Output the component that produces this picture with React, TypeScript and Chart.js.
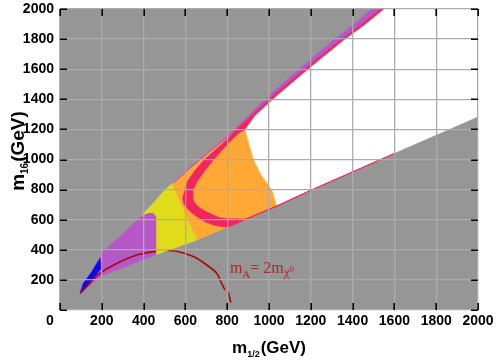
import React, { useEffect, useRef } from 'react';
import { Chart, registerables } from 'chart.js';

Chart.register(...registerables);

// ---------- axes ----------
const xTicks = [0, 200, 400, 600, 800, 1000, 1200, 1400, 1600, 1800, 2000];
const yTicks = [0, 200, 400, 600, 800, 1000, 1200, 1400, 1600, 1800, 2000];

// ---------- excluded (gray) region: everything outside the wedge ----------
const grayX = [0, 0, 1490, 1400, 1300, 1200, 1100, 1000, 950, 900, 850, 797, 730, 662, 598, 542, 502, 450, 391, 300, 200, 191, 152, 112, 96, 200, 462, 654, 1037, 1203, 1600, 2000, 2000, 0];
const grayY = [0, 2000, 2000, 1892, 1785, 1668, 1548, 1425, 1360, 1290, 1222, 1152, 1075, 997, 919, 845, 797, 715, 628, 505, 385, 350, 254, 177, 111, 226, 369, 465, 690, 797, 1040, 1282, 0, 0];

// ---------- orange region ----------
const orangeX = [534, 542, 598, 662, 730, 797, 850, 880, 885, 900, 925, 960, 1013, 1037, 654, 534];
const orangeY = [836, 845, 919, 997, 1075, 1152, 1222, 1240, 1200, 1120, 1000, 900, 797, 690, 465, 836];

// ---------- thin purple band along the upper edge ----------
const bandX = [542, 598, 662, 730, 797, 850, 900, 950, 1000, 1100, 1200, 1300, 1400, 1490, 1532, 1436, 1332, 1228, 1124, 1020, 968, 914, 862, 807, 738, 670, 604, 546, 542];
const bandY = [845, 919, 997, 1075, 1152, 1222, 1290, 1360, 1425, 1548, 1668, 1785, 1892, 2000, 2000, 1892, 1785, 1668, 1548, 1425, 1360, 1290, 1222, 1152, 1075, 997, 919, 845, 845];

// ---------- pink strip + chevron ----------
const pinkX = [1532, 1436, 1332, 1228, 1124, 1020, 968, 914, 862, 842, 797, 740, 689, 645, 612, 597, 587, 592, 610, 638, 670, 702, 740, 780, 800, 860, 890, 845, 797, 760, 734, 700, 670, 648, 634, 636, 655, 690, 734, 797, 850, 885, 931, 985, 1037, 1141, 1245, 1349, 1453, 1549, 1532];
const pinkY = [2000, 1892, 1785, 1668, 1548, 1425, 1360, 1290, 1222, 1196, 1130, 1060, 997, 925, 860, 797, 745, 705, 672, 636, 606, 582, 563, 552, 551, 586, 603, 607, 606, 615, 631, 652, 676, 705, 740, 797, 850, 920, 997, 1096, 1170, 1200, 1290, 1360, 1425, 1548, 1668, 1785, 1892, 2000, 2000];

// ---------- purple region (left) ----------
const purpleX = [96, 112, 152, 191, 200, 300, 391, 420, 445, 458, 462, 462, 200, 96];
const purpleY = [111, 177, 254, 350, 385, 505, 628, 645, 648, 640, 620, 369, 226, 111];

// ---------- blue sliver ----------
const blueX = [96, 112, 152, 191, 196, 167, 135, 112, 96];
const blueY = [111, 177, 254, 343, 277, 221, 166, 126, 111];

// ---------- yellow region ----------
const yellowX = [391, 450, 502, 534, 654, 462, 462, 445, 420, 391];
const yellowY = [628, 715, 797, 836, 465, 369, 620, 648, 645, 628];

// ---------- m_A = 2 m_chi curve ----------
const arcX = [96, 144, 167, 210, 287, 311, 367, 439, 500, 558, 638, 702, 750, 773, 789];
const arcY = [111, 180, 215, 262, 321, 335, 365, 386, 395, 390, 355, 299, 244, 177, 133];
const arcTailX = [805, 817];
const arcTailY = [122, 50];

// ---------- pink edge along the lower boundary ----------
const edgeX = [800, 1037, 1203, 1600];
const edgeY = [551, 690, 797, 1040];

const labelAt = [813, 246];

const GRAY = '#969696';
const ORANGE = '#ffa836';
const PURPLE = '#b557c6';
const PINK = '#f2245f';
const BLUE = '#0a0af0';
const YELLOW = '#e0dc1c';
const DARKRED = '#aa0808';

const pts = (xs: number[], ys: number[]) => xs.map((x, i) => ({ x, y: ys[i] }));

const poly = (xs: number[], ys: number[], color: string) => ({
  data: pts(xs, ys),
  backgroundColor: color,
  borderColor: color,
  borderWidth: 0.6,
  fill: 'shape',
  pointRadius: 0,
  tension: 0,
});

const curve = (xs: number[], ys: number[], color: string, w: number, t: number) => ({
  data: pts(xs, ys),
  borderColor: color,
  backgroundColor: color,
  borderWidth: w,
  fill: false,
  pointRadius: 0,
  tension: t,
});

const TICK_FONT = { family: '"Liberation Sans", Arial, sans-serif', size: 14, weight: 'bold' as const };

const overlay = {
  id: 'overlay',
  afterDraw(chart: any) {
    const ctx = chart.ctx as CanvasRenderingContext2D;
    const xs = chart.scales.x;
    const ys = chart.scales.y;
    const a = chart.chartArea;
    ctx.save();
    // inward tick marks on all four sides
    ctx.strokeStyle = '#000';
    ctx.lineWidth = 1.6;
    ctx.beginPath();
    xTicks.forEach((v) => {
      const px = Math.round(xs.getPixelForValue(v)) + 0.2;
      ctx.moveTo(px, a.bottom);
      ctx.lineTo(px, a.bottom - 7);
      ctx.moveTo(px, a.top);
      ctx.lineTo(px, a.top + 7);
    });
    yTicks.forEach((v) => {
      const py = Math.round(ys.getPixelForValue(v)) + 0.2;
      ctx.moveTo(a.left, py);
      ctx.lineTo(a.left + 7, py);
      ctx.moveTo(a.right, py);
      ctx.lineTo(a.right - 7, py);
    });
    ctx.stroke();

    // the lone "0" under the origin
    ctx.fillStyle = '#000';
    ctx.font = `bold ${TICK_FONT.size}px ${TICK_FONT.family}`;
    ctx.textAlign = 'center';
    ctx.textBaseline = 'middle';
    ctx.fillText('0', a.left - 10, a.bottom + 3 + 8.4);

    // x-axis title: m_{1/2}(GeV)
    ctx.textAlign = 'left';
    ctx.textBaseline = 'alphabetic';
    const big = 'bold 17px "Liberation Sans", Arial, sans-serif';
    const sub = 'bold 9px "Liberation Sans", Arial, sans-serif';
    ctx.font = big;
    const wm = ctx.measureText('m').width;
    const wg = ctx.measureText('(GeV)').width;
    ctx.font = sub;
    const ws = ctx.measureText('1/2').width;
    let x = (a.left + a.right) / 2 - (wm + ws + wg + 1) / 2;
    const by = 353;
    ctx.font = big;
    ctx.fillText('m', x, by);
    x += wm;
    ctx.font = sub;
    ctx.fillText('1/2', x, by + 4);
    x += ws + 1;
    ctx.font = big;
    ctx.fillText('(GeV)', x, by);

    // y-axis title: m_{16}(GeV), rotated
    const bigY = 'bold 19px "Liberation Sans", Arial, sans-serif';
    const subY = 'bold 10px "Liberation Sans", Arial, sans-serif';
    ctx.font = bigY;
    const ym = ctx.measureText('m').width;
    const yg = ctx.measureText('(GeV)').width;
    ctx.font = subY;
    const ys16 = ctx.measureText('16').width;
    const total = ym + ys16 + yg + 1;
    ctx.save();
    ctx.translate(24, 151 + total / 2);
    ctx.rotate(-Math.PI / 2);
    let tx = 0;
    ctx.font = bigY;
    ctx.fillText('m', tx, 0);
    tx += ym;
    ctx.font = subY;
    ctx.fillText('16', tx, 4);
    tx += ys16 + 1;
    ctx.font = bigY;
    ctx.fillText('(GeV)', tx, 0);
    ctx.restore();

    // annotation m_A = 2 m_chi0
    ctx.fillStyle = '#b02428';
    let lx = xs.getPixelForValue(labelAt[0]);
    const ly = ys.getPixelForValue(labelAt[1]);
    const serif = (s: number) => `${s}px "Liberation Serif", "DejaVu Serif", serif`;
    ctx.font = serif(16);
    ctx.fillText('m', lx, ly);
    lx += ctx.measureText('m').width;
    ctx.font = serif(11);
    ctx.fillText('A', lx, ly + 5);
    lx += ctx.measureText('A').width;
    ctx.font = serif(16);
    ctx.fillText('= 2m', lx, ly);
    lx += ctx.measureText('= 2m').width;
    ctx.font = serif(13);
    ctx.fillText('\u03c7', lx, ly + 3);
    lx += ctx.measureText('\u03c7').width;
    ctx.font = serif(9);
    ctx.fillText('0', lx, ly - 1);
    ctx.restore();
  },
};

export default function App() {
  const ref = useRef<HTMLCanvasElement>(null);
  useEffect(() => {
    if (!ref.current) return;
    const datasets: any[] = [
      poly(grayX, grayY, GRAY),
      poly(orangeX, orangeY, ORANGE),
      poly(bandX, bandY, PURPLE),
      poly(pinkX, pinkY, PINK),
      poly(purpleX, purpleY, PURPLE),
      poly(blueX, blueY, BLUE),
      curve(arcX, arcY, DARKRED, 1.6, 0.35),
      curve(arcTailX, arcTailY, DARKRED, 1.6, 0),
      poly(yellowX, yellowY, YELLOW),
      curve(edgeX, edgeY, PINK, 1.2, 0),
    ].map((d, i) => ({ ...d, order: -i }));

    const chart = new Chart(ref.current, {
      type: 'line',
      data: { datasets },
      plugins: [overlay],
      options: {
        responsive: false,
        animation: false,
        events: [],
        devicePixelRatio: 1,
        layout: { padding: { left: 0, right: 20, top: 9, bottom: 0 } },
        plugins: {
          legend: { display: false },
          tooltip: { enabled: false },
        },
        scales: {
          x: {
            type: 'linear',
            min: 0,
            max: 2000,
            afterBuildTicks: (s: any) => {
              s.ticks = xTicks.map((v) => ({ value: v }));
            },
            afterFit: (s: any) => {
              s.height = 51;
              s.paddingLeft = 0;
              s.paddingRight = 0;
              s.paddingTop = 0;
              s.paddingBottom = 0;
            },
            ticks: {
              z: 1,
              padding: 3,
              maxRotation: 0,
              autoSkip: false,
              color: '#000',
              font: TICK_FONT,
              callback: (v: any) => (Number(v) === 0 ? '' : String(v)),
            },
            grid: { z: 1, color: '#acacac', lineWidth: 1.3, drawTicks: false },
            border: { display: false },
          },
          y: {
            type: 'linear',
            min: 0,
            max: 2000,
            afterBuildTicks: (s: any) => {
              s.ticks = yTicks.map((v) => ({ value: v }));
            },
            afterFit: (s: any) => {
              s.width = 60;
              s.paddingLeft = 0;
              s.paddingRight = 0;
              s.paddingTop = 0;
              s.paddingBottom = 0;
            },
            ticks: {
              z: 1,
              padding: 6,
              autoSkip: false,
              color: '#000',
              font: TICK_FONT,
              callback: (v: any) => (Number(v) === 0 ? '' : String(v)),
            },
            grid: { z: 1, color: '#acacac', lineWidth: 1.3, drawTicks: false },
            border: { display: false },
          },
        },
      } as any,
    });
    return () => chart.destroy();
  }, []);

  return (
    <div style={{ position: 'absolute', left: 0, top: 0, width: 498, height: 361, background: '#fff' }}>
      <canvas ref={ref} width={498} height={361} style={{ display: 'block', width: 498, height: 361 }} />
    </div>
  );
}
